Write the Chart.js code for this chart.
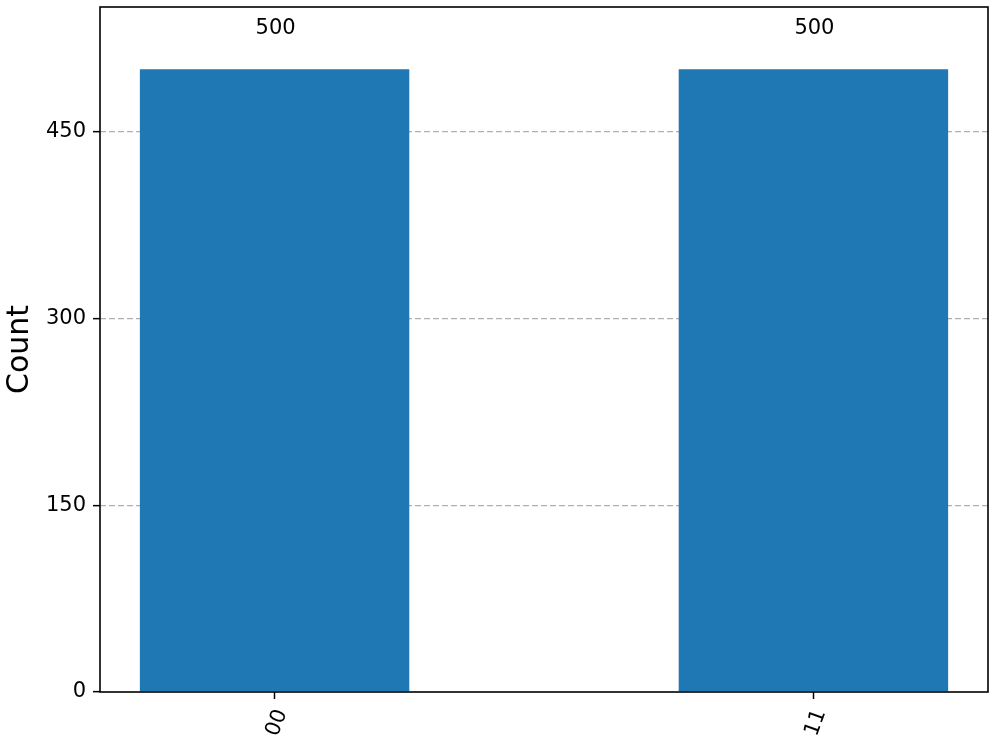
<!DOCTYPE html>
<html>
<head>
<meta charset="utf-8">
<script src="https://cdn.jsdelivr.net/npm/chart.js@4"></script>
<style>
  html, body { margin: 0; padding: 0; background: #fff; }
  #wrap { width: 996px; height: 747px; position: relative; }
</style>
</head>
<body>
<div id="wrap"><canvas id="histChart"></canvas></div>
<script>
// data
const categories = ['00', '11'];
const counts = [500, 500];
const yTicks = [0, 150, 300, 450];
const yMax = 550;
const xPad = 0.324;

const barColor = '#1f77b4';
const font = "'DejaVu Sans', sans-serif";

// frame around the plot area (matplotlib spines)
const framePlugin = {
    id: 'frame',
    afterDraw(chart) {
        const { ctx, chartArea: a } = chart;
        ctx.save();
        ctx.strokeStyle = '#000';
        ctx.lineWidth = 1.6;
        ctx.strokeRect(a.left, a.top, a.right - a.left, a.bottom - a.top);
        ctx.restore();
    }
};

// count labels above each bar
const valueLabels = {
    id: 'valueLabels',
    afterDatasetsDraw(chart) {
        const { ctx } = chart;
        const meta = chart.getDatasetMeta(0);
        ctx.save();
        ctx.fillStyle = '#000';
        ctx.font = '21px ' + font;
        ctx.textAlign = 'center';
        ctx.textBaseline = 'alphabetic';
        meta.data.forEach((bar, i) => {
            ctx.fillText(String(counts[i]), bar.x + 1, bar.y - 35);
        });
        ctx.restore();
    }
};

const ctx = document.getElementById('histChart').getContext('2d');
new Chart(ctx, {
    type: 'bar',
    data: {
        datasets: [{
            label: 'Count',
            data: counts.map((c, i) => ({ x: i, y: c })),
            backgroundColor: barColor,
            borderWidth: 0,
            barPercentage: 1.0,
            categoryPercentage: 0.5
        }]
    },
    options: {
        responsive: true,
        maintainAspectRatio: false,
        animation: false,
        layout: { padding: { top: 7, right: 8, left: 0, bottom: 0 } },
        plugins: {
            legend: { display: false },
            tooltip: { enabled: false }
        },
        scales: {
            x: {
                type: 'linear',
                offset: false,
                min: -xPad,
                max: categories.length - 1 + xPad,
                afterBuildTicks: (scale) => {
                    scale.ticks = categories.map((c, i) => ({ value: i }));
                },
                afterFit: (scale) => {
                    scale.height = 55;
                    scale.paddingLeft = 0;
                    scale.paddingRight = 0;
                },
                border: { display: false },
                grid: {
                    offset: false,
                    drawOnChartArea: false,
                    drawTicks: true,
                    tickLength: 7,
                    tickColor: '#000',
                    tickWidth: 1.5
                },
                ticks: {
                    callback: (v) => categories[v] !== undefined ? categories[v] : '',
                    color: '#000',
                    font: { family: font, size: 21 },
                    minRotation: 70,
                    maxRotation: 70,
                    autoSkip: false,
                    padding: 7,
                    labelOffset: 7
                }
            },
            y: {
                min: 0,
                max: yMax,
                afterBuildTicks: (scale) => {
                    scale.ticks = yTicks.map(v => ({ value: v }));
                },
                afterFit: (scale) => {
                    scale.width = 100;
                    scale.paddingTop = 0;
                    scale.paddingBottom = 0;
                },
                border: { display: false, dash: [6, 3] },
                grid: {
                    color: (c) => (c.tick && c.tick.value === 0) ? 'rgba(0,0,0,0)' : '#b0b0b0',
                    lineWidth: 1.3,
                    drawTicks: true,
                    tickLength: 7,
                    tickColor: '#000',
                    tickWidth: 1.5
                },
                ticks: {
                    color: '#000',
                    font: { family: font, size: 21 },
                    padding: 7
                },
                title: {
                    display: true,
                    text: 'Count',
                    color: '#000',
                    font: { family: font, size: 30 },
                    padding: { top: 2, bottom: 0 }
                }
            }
        }
    },
    plugins: [framePlugin, valueLabels]
});
</script>
</body>
</html>
